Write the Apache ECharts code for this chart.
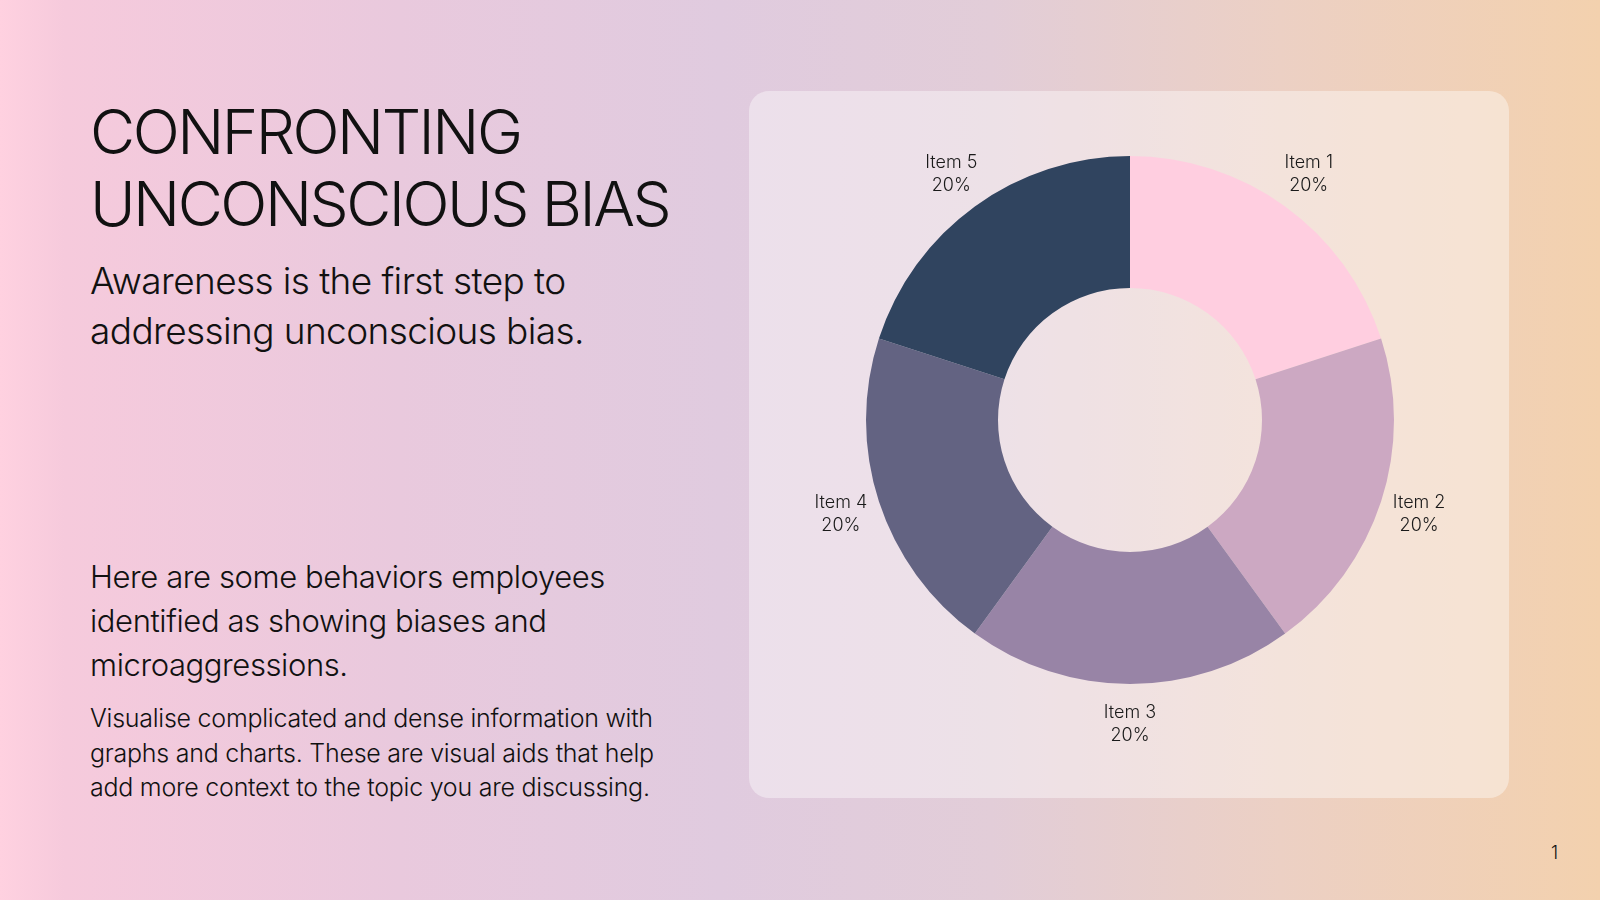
<!DOCTYPE html>
<html>
<head>
<meta charset="utf-8">
<script src="https://cdn.jsdelivr.net/npm/echarts@6/dist/echarts.min.js"></script>
<style>
html, body { margin: 0; padding: 0; }
body {
	width: 1600px; height: 900px; position: relative; overflow: hidden;
	font-family: Inter, "Noto Sans", sans-serif; color: #111;
	background: linear-gradient(to right, #ffd1e0 0%, #f6cadc 4%, #e9c9dd 25%, #e0cbdf 45%, #e2cdd8 62%, #ecd0c4 80%, #f3d1ae 100%);
}
.panel {
	position: absolute; left: 749px; top: 91px; width: 760px; height: 707px;
	border-radius: 20px; background: rgba(255, 255, 255, 0.4);
}
#dashboard { position: absolute; left: 0; top: 0; width: 1600px; height: 900px; }
.txt { position: absolute; left: 90px; margin: 0; font-weight: 300; }
.title { top: 96px; font-size: 62px; line-height: 72px; letter-spacing: -2.5px; }
.sub { top: 256px; font-size: 37px; line-height: 50px; letter-spacing: -0.6px; }
.body1 { top: 555px; font-size: 31px; line-height: 44px; letter-spacing: -0.4px; }
.body2 { top: 701px; font-size: 25px; line-height: 34.5px; letter-spacing: -0.25px; }
.page { position: absolute; left: 1551px; top: 842px; font-size: 18px; font-weight: 300; }
</style>
</head>
<body>
<div class="panel"></div>
<p class="txt title">CONFRONTING<br>UNCONSCIOUS BIAS</p>
<p class="txt sub">Awareness is the first step to<br>addressing unconscious bias.</p>
<p class="txt body1">Here are some behaviors employees<br>identified as showing biases and<br>microaggressions.</p>
<p class="txt body2">Visualise complicated and dense information with<br>graphs and charts. These are visual aids that help<br>add more context to the topic you are discussing.</p>
<div class="page">1</div>
<div id="dashboard"></div>
<script>
var categories = ['Item 1', 'Item 2', 'Item 3', 'Item 4', 'Item 5'];
var shares = [20, 20, 20, 20, 20];
var slice_colors = ['#ffcee0', '#cca8c2', '#9884a6', '#636382', '#30445f'];

var myChart = echarts.init(document.getElementById('dashboard'), null, { renderer: 'canvas' });

var pie_data = [];
var label_data = [];
for (var i = 0; i < categories.length; i++) {
	pie_data.push({ name: categories[i], value: shares[i], itemStyle: { color: slice_colors[i] } });
	label_data.push({ name: categories[i], value: shares[i] });
}

option = {
	animation: false,
	series: [
		{
			type: 'pie',
			center: [1130, 420],
			radius: [132, 264],
			startAngle: 90,
			clockwise: true,
			silent: true,
			label: { show: false },
			labelLine: { show: false },
			data: pie_data
		},
		{
			// transparent ring used only to place the labels
			type: 'pie',
			center: [1130, 420],
			radius: [278, 324],
			startAngle: 90,
			clockwise: true,
			silent: true,
			itemStyle: { color: 'rgba(0,0,0,0)' },
			label: {
				show: true,
				position: 'inside',
				formatter: '{b}\n{d}%',
				color: '#1a1a1a',
				fontFamily: 'Inter',
				fontWeight: 300,
				fontSize: 18,
				lineHeight: 23
			},
			labelLine: { show: false },
			data: label_data
		}
	]
};
myChart.setOption(option);
</script>
</body>
</html>
